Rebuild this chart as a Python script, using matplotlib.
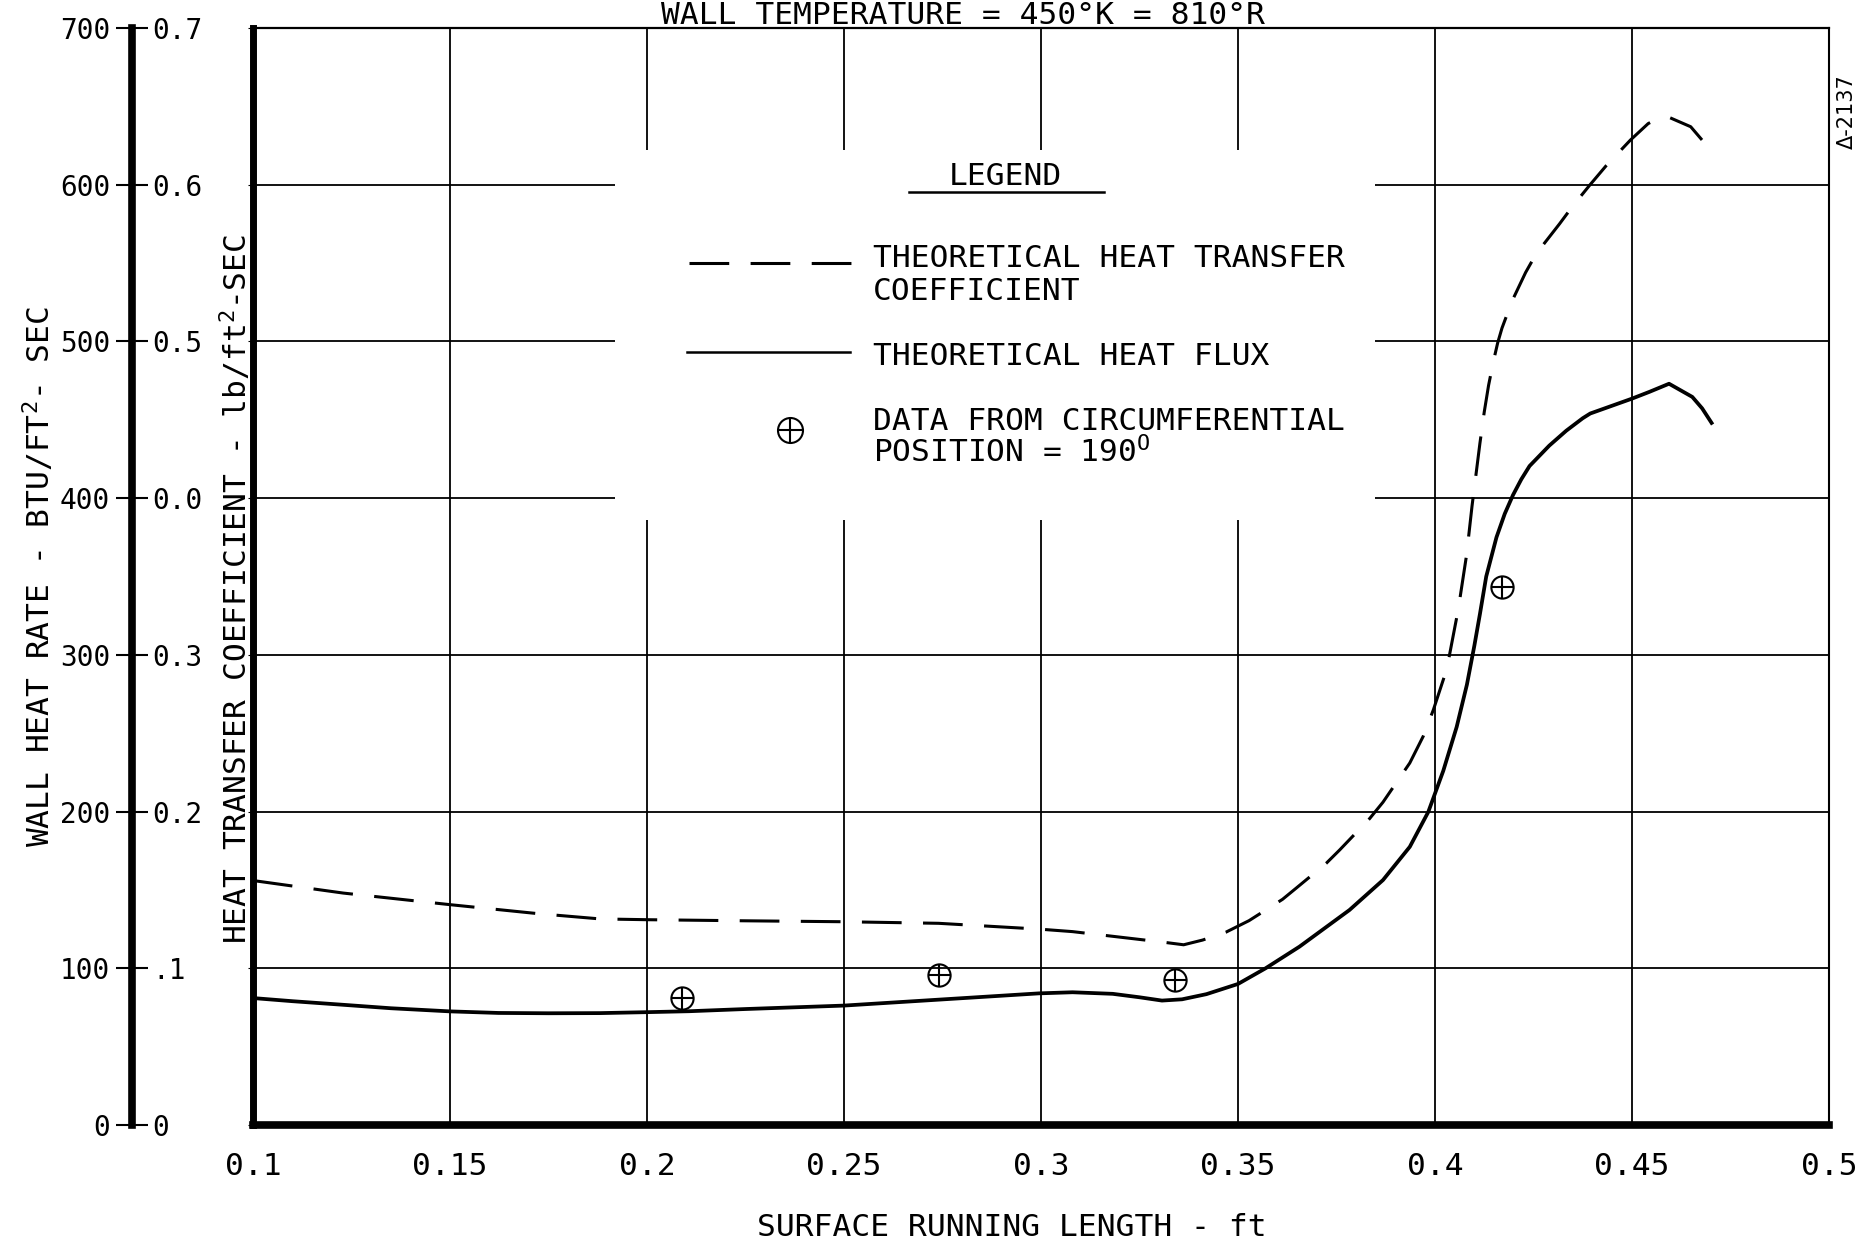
import numpy as np
import matplotlib.pyplot as plt
from matplotlib.patches import Rectangle

plt.rcParams['font.family'] = 'DejaVu Sans Mono'
plt.rcParams['mathtext.default'] = 'regular'

# theoretical heat flux, BTU/ft2-sec vs surface running length, ft
flux_x = [0.100, 0.110, 0.1229, 0.135, 0.150, 0.1623, 0.175, 0.1881, 0.200, 0.2107,
          0.225, 0.250, 0.2741, 0.2995, 0.308, 0.3182, 0.325, 0.3307, 0.3358, 0.342,
          0.350, 0.357, 0.3656, 0.3783, 0.3868, 0.3936, 0.3983, 0.4021, 0.4055, 0.4081,
          0.4100, 0.4114, 0.4130, 0.4156, 0.4177, 0.4198, 0.4219, 0.424, 0.429, 0.4333,
          0.4375, 0.4394, 0.450, 0.4544, 0.4594, 0.4653, 0.4678, 0.4702]
flux_q = [81, 79, 76.7, 74.5, 72.5, 71.5, 71.3, 71.4, 72.0, 72.6,
          74, 76.2, 80, 84, 84.7, 83.7, 81.5, 79.4, 80.2, 83.5,
          90, 100, 113.8, 137.2, 156.3, 177.5, 199.8, 226, 254, 281,
          306, 326, 350, 375, 390, 402, 412, 420.5, 433.5, 443,
          451, 454, 463.5, 467.8, 473, 464.6, 457.3, 448]

# theoretical heat transfer coefficient, lb/ft2-sec
coef_x = [0.100, 0.1229, 0.150, 0.1722, 0.1881, 0.200, 0.225, 0.250, 0.274, 0.2995,
          0.308, 0.3312, 0.3362, 0.3410, 0.3469, 0.3528, 0.3613, 0.3647, 0.3724, 0.3758,
          0.3834, 0.3868, 0.3936, 0.397, 0.3996, 0.4030, 0.4059, 0.408, 0.4094, 0.4104,
          0.4114, 0.4125, 0.4136, 0.4148, 0.4159, 0.417, 0.4196, 0.423, 0.4257, 0.4316,
          0.435, 0.4392, 0.4434, 0.4496, 0.4541, 0.4569, 0.4594, 0.4649, 0.4683, 0.4694]
coef_h = [0.156, 0.148, 0.1406, 0.1349, 0.1315, 0.131, 0.1303, 0.1297, 0.1287, 0.125,
          0.1234, 0.1166, 0.1150, 0.118, 0.123, 0.1304, 0.144, 0.151, 0.167, 0.1755,
          0.1955, 0.206, 0.231, 0.248, 0.265, 0.291, 0.329, 0.3635, 0.395, 0.415,
          0.435, 0.455, 0.472, 0.487, 0.499, 0.5085, 0.526, 0.544, 0.556, 0.575,
          0.5865, 0.5995, 0.612, 0.6285, 0.639, 0.6426, 0.643, 0.637, 0.627, 0.6175]

# measured points, circumferential position 190 deg
data_x = [0.209, 0.274, 0.334, 0.417]
data_q = [81, 95.5, 92.4, 343.4]

x_ticks = [0.1, 0.15, 0.2, 0.25, 0.3, 0.35, 0.4, 0.45, 0.5]
x_labels = ['0.1', '0.15', '0.2', '0.25', '0.3', '0.35', '0.4', '0.45', '0.5']
q_ticks = [0, 100, 200, 300, 400, 500, 600, 700]
q_labels = ['0', '100', '200', '300', '400', '500', '600', '700']
h_ticks = [0, 0.1, 0.2, 0.3, 0.4, 0.5, 0.6, 0.7]
h_labels = ['0', '.1', '0.2', '0.3', '0.0', '0.5', '0.6', '0.7']

W, H = 1871, 1245
fig = plt.figure(figsize=(W / 100, H / 100), dpi=100)
px0, px1, py0, py1 = 253, 1829, 28, 1125
ax = fig.add_axes([px0 / W, 1 - py1 / H, (px1 - px0) / W, (py1 - py0) / H])
ax.set_xlim(0.1, 0.5)
ax.set_ylim(0, 700)
ax.set_xticks(x_ticks)
ax.set_xticklabels(x_labels)
ax.set_yticks(q_ticks)
ax.tick_params(axis='x', length=0, pad=19.5, labelsize=22.5)
ax.tick_params(axis='y', left=False, labelleft=False)
ax.set_axisbelow(True)
ax.grid(True, color='black', lw=1.3)
ax.spines['left'].set_linewidth(5)
ax.spines['bottom'].set_linewidth(5.5)
ax.spines['top'].set_linewidth(1.6)
ax.spines['right'].set_linewidth(1.5)

# white patch behind the legend block
ax.add_patch(Rectangle((0.2297, 0.5515), 0.4822, 0.3375, transform=ax.transAxes,
                       facecolor='white', edgecolor='none', zorder=1.5))

DASH = (0, (13, 7))
ax.plot(flux_x, flux_q, color='black', lw=2.7, zorder=3, solid_joinstyle='round')
ax.plot(data_x, data_q, ls='none', marker='o', ms=16, mfc='none', mec='black', mew=1.5, zorder=4)
ax.plot(data_x, data_q, ls='none', marker='+', ms=16, mec='black', mew=1.5, zorder=4)

axc = ax.twinx()
axc.set_ylim(0, 0.7)
axc.axis('off')
axc.plot(coef_x, coef_h, color='black', lw=2.2, ls=DASH)

# legend block
T = ax.transAxes
ax.text(0.4775, 0.8569, 'LEGEND', transform=T, ha='center', va='baseline', fontsize=22.5, zorder=5)
ax.plot([0.4161, 0.5397], [0.8508, 0.8508], transform=T, color='black', lw=1.8, zorder=5)
ax.plot([0.2766, 0.3804], [0.7858, 0.7858], transform=T, color='black', lw=2.2, ls=DASH, zorder=5)
ax.plot([0.2752, 0.3788], [0.7046, 0.7046], transform=T, color='black', lw=1.8, zorder=5)
ax.plot([0.3406], [0.6336], transform=T, marker='o', ms=18, mfc='none', mec='black', mew=1.5, zorder=5)
ax.plot([0.3406], [0.6336], transform=T, marker='+', ms=18, mec='black', mew=1.5, zorder=5)
for txt, yy in [('THEORETICAL HEAT TRANSFER', 0.7824), ('COEFFICIENT', 0.7520),
                ('THEORETICAL HEAT FLUX', 0.6928), ('DATA FROM CIRCUMFERENTIAL', 0.6336),
                ('POSITION = 190$^O$', 0.6044)]:
    ax.text(0.3934, yy, txt, transform=T, ha='left', va='baseline', fontsize=22.5, zorder=5)

# outer scale: heat rate on the left, coefficient on the right
axl = fig.add_axes([132 / W, 1 - py1 / H, 1e-4, (py1 - py0) / H])
axl.set_ylim(0, 700)
axl.set_xticks([])
for s in ['top', 'bottom', 'right']:
    axl.spines[s].set_visible(False)
axl.spines['left'].set_linewidth(5.5)
axl.set_yticks(q_ticks)
axl.set_yticklabels(q_labels)
axl.tick_params(axis='y', direction='inout', length=23, width=1.5, pad=4.3, labelsize=20)
axr = axl.twinx()
axr.set_ylim(0, 0.7)
for s in ['top', 'bottom', 'right', 'left']:
    axr.spines[s].set_visible(False)
axr.set_yticks(h_ticks)
axr.set_yticklabels(h_labels)
axr.tick_params(axis='y', length=0, pad=14.4, labelsize=20)

fig.text(39 / W, 1 - 577 / H, 'WALL HEAT RATE - BTU/FT$^2$- SEC', rotation=90,
         ha='center', va='center', fontsize=22.5)
fig.text(236 / W, 1 - 589 / H, 'HEAT TRANSFER COEFFICIENT - lb/ft$^2$-SEC', rotation=90,
         ha='center', va='center', fontsize=22.5)
fig.text(1012 / W, 1 - 1228 / H, 'SURFACE RUNNING LENGTH - ft', ha='center', va='center',
         fontsize=22.5)
fig.text(963 / W, 1 - 24 / H, 'WALL TEMPERATURE = 450°K = 810°R', ha='center', va='baseline',
         fontsize=22.5)
fig.text(1847 / W, 1 - 112 / H, 'Δ-2137', rotation=90, ha='center', va='center',
         fontsize=15, family='DejaVu Sans')

plt.savefig('out.png', dpi=100)
